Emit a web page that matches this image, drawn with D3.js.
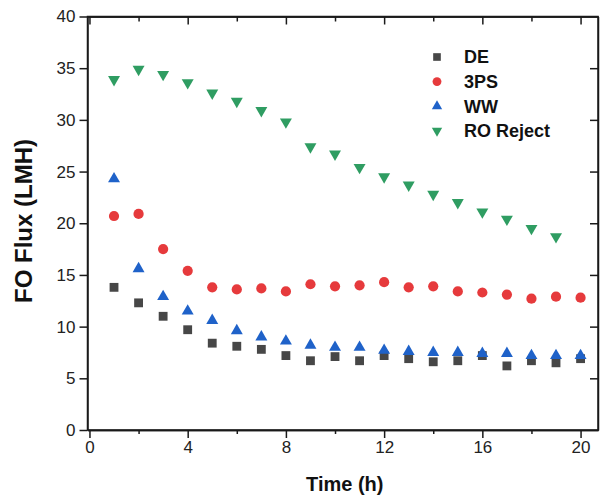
<!DOCTYPE html>
<html>
<head>
<meta charset="utf-8">
<script src="https://cdn.jsdelivr.net/npm/d3@7"></script>
<style>
  html, body { margin: 0; padding: 0; background: #fff; }
  svg { display: block; font-family: "Liberation Sans", Arial, sans-serif; }
</style>
</head>
<body>
<svg id="chart" width="600" height="498"></svg>
<script>
// Time points (h)
const timeDE  = [1,2,3,4,5,6,7,8,9,10,11,12,13,14,15,16,17,18,19,20];
const time3PS = [1,2,3,4,5,6,7,8,9,10,11,12,13,14,15,16,17,18,19,20];
const timeWW  = [1,2,3,4,5,6,7,8,9,10,11,12,13,14,15,16,17,18,19,20];
const timeRO  = [1,2,3,4,5,6,7,8,9,10,11,12,13,14,15,16,17,18,19];

// FO flux (LMH) per feed solution
const fluxDE  = [13.8,12.3,11.0,9.7,8.4,8.1,7.8,7.2,6.7,7.1,6.7,7.2,6.9,6.6,6.7,7.2,6.2,6.7,6.5,6.9];
const flux3PS = [20.7,20.9,17.5,15.4,13.8,13.6,13.7,13.4,14.1,13.9,14.0,14.3,13.8,13.9,13.4,13.3,13.1,12.7,12.9,12.8];
const fluxWW  = [24.3,15.6,12.9,11.5,10.6,9.6,9.0,8.6,8.2,8.0,8.0,7.7,7.6,7.5,7.5,7.4,7.4,7.2,7.2,7.2];
const fluxRO  = [33.9,34.9,34.4,33.6,32.6,31.8,30.9,29.8,27.4,26.7,25.4,24.5,23.7,22.8,22.0,21.1,20.4,19.5,18.7];

const seriesNames = ["DE", "3PS", "WW", "RO Reject"];
const xTicksMajor = [0, 4, 8, 12, 16, 20];
const xTicksMinor = [2, 6, 10, 14, 18];
const yTicks = [0, 5, 10, 15, 20, 25, 30, 35, 40];

const series = [
  { name: seriesNames[0], x: timeDE,  y: fluxDE,  symbol: d3.symbolSquare,   size: 78,  color: "#474747", rotate: 0 },
  { name: seriesNames[1], x: time3PS, y: flux3PS, symbol: d3.symbolCircle,   size: 82,  color: "#e63a3c", rotate: 0 },
  { name: seriesNames[2], x: timeWW,  y: fluxWW,  symbol: d3.symbolTriangle, size: 62,  color: "#1f62c9", rotate: 0 },
  { name: seriesNames[3], x: timeRO,  y: fluxRO,  symbol: d3.symbolTriangle, size: 62,  color: "#2f9d62", rotate: 180 }
];

const svg = d3.select("#chart");
const plotLeft = 87.5, plotRight = 598, plotTop = 16.5, plotBottom = 430;

const x = d3.scaleLinear().domain([-0.08, 20.71]).range([plotLeft, plotRight]);
const y = d3.scaleLinear().domain([0, 40]).range([plotBottom, plotTop]);

const axisColor = "#1a1a1a";
const tickFont = 17;

// Bottom axis: labelled major ticks + minor ticks, outward
const gBottom = svg.append("g").attr("transform", `translate(0,${plotBottom})`);
gBottom.call(d3.axisBottom(x).tickValues(xTicksMajor).tickSize(8).tickPadding(3).tickSizeOuter(0));
gBottom.append("g").call(d3.axisBottom(x).tickValues(xTicksMinor).tickSize(4).tickFormat("").tickSizeOuter(0));

// Left axis: labelled ticks, outward
const gLeft = svg.append("g").attr("transform", `translate(${plotLeft},0)`);
gLeft.call(d3.axisLeft(y).tickValues(yTicks).tickSize(8).tickPadding(4).tickSizeOuter(0));

// Top axis: inward ticks, no labels
const gTop = svg.append("g").attr("transform", `translate(0,${plotTop})`);
gTop.call(d3.axisBottom(x).tickValues(xTicksMajor).tickSize(8).tickFormat("").tickSizeOuter(0));
gTop.append("g").call(d3.axisBottom(x).tickValues(xTicksMinor).tickSize(5).tickFormat("").tickSizeOuter(0));

// Right axis: inward ticks, no labels
const gRight = svg.append("g").attr("transform", `translate(${plotRight},0)`);
gRight.call(d3.axisLeft(y).tickValues(yTicks.slice(1, -1)).tickSize(8).tickFormat("").tickSizeOuter(0));

svg.selectAll(".domain").attr("stroke", axisColor).attr("stroke-width", 1.5);
svg.selectAll(".tick line").attr("stroke", axisColor).attr("stroke-width", 1.5);
svg.selectAll(".tick text")
  .attr("font-size", tickFont)
  .attr("fill", "#222")
  .attr("font-family", "Liberation Sans, Arial, sans-serif");

// Plot frame
svg.append("rect")
  .attr("x", plotLeft).attr("y", plotTop)
  .attr("width", plotRight - plotLeft).attr("height", plotBottom - plotTop)
  .attr("fill", "none").attr("stroke", axisColor).attr("stroke-width", 1.5);

// Data markers
series.forEach(s => {
  const sym = d3.symbol().type(s.symbol).size(s.size);
  svg.append("g").selectAll("path")
    .data(s.x.map((t, i) => [t, s.y[i]]))
    .join("path")
    .attr("d", sym)
    .attr("fill", s.color)
    .attr("transform", d => `translate(${x(d[0])},${y(d[1])}) rotate(${s.rotate})`);
});

// Legend
const legend = svg.append("g").attr("transform", "translate(437,57)");
series.forEach((s, i) => {
  const row = legend.append("g").attr("transform", `translate(0,${i * 24.6})`);
  row.append("path")
    .attr("d", d3.symbol().type(s.symbol).size(s.size * 0.75)())
    .attr("fill", s.color)
    .attr("transform", `rotate(${s.rotate})`);
  row.append("text")
    .attr("x", 27).attr("y", 0).attr("dy", "0.36em")
    .attr("font-size", 18).attr("font-weight", "bold")
    .attr("fill", "#111")
    .text(s.name);
});

// Axis titles
svg.append("text")
  .attr("x", (plotLeft + plotRight) / 2 + 2).attr("y", 491)
  .attr("text-anchor", "middle")
  .attr("font-size", 20).attr("font-weight", "bold").attr("fill", "#111")
  .text("Time (h)");

svg.append("text")
  .attr("transform", `translate(32,${221}) rotate(-90)`)
  .attr("text-anchor", "middle")
  .attr("font-size", 24).attr("font-weight", "bold").attr("fill", "#111")
  .text("FO Flux (LMH)");
</script>
</body>
</html>
